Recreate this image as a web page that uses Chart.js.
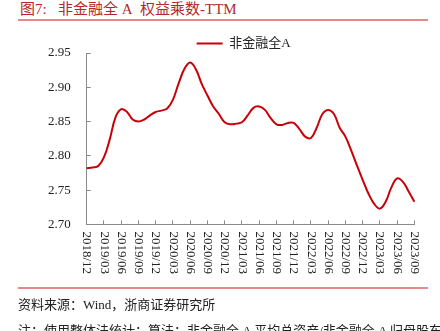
<!DOCTYPE html>
<html lang="zh-CN">
  <head>
    <meta charset="UTF-8" />
    <title>非金融全A 权益乘数-TTM</title>
    <script src="https://cdn.jsdelivr.net/npm/chart.js"></script>
    <style>
      html, body { margin: 0; padding: 0; background: #fff; }
      body { width: 440px; height: 331px; overflow: hidden; position: relative; }
      .title {
        position: absolute; left: 20px; top: 0px;
        font: 15px "Liberation Serif", "Noto Sans CJK SC", serif;
        color: #b3282d; white-space: nowrap; line-height: 18px;
      }
      .rule { position: absolute; left: 18px; width: 410px; height: 2px; background: #e38a8a; }
      .note {
        position: absolute; left: 18px;
        font: 13px "Liberation Serif", "Noto Sans CJK SC", serif;
        color: #222; white-space: nowrap; line-height: 16px;
      }
      #wrap { position: absolute; left: 0; top: 0; width: 440px; height: 331px; }
    </style>
  </head>
  <body>
    <div class="title">图7:&nbsp;&nbsp;&nbsp;非金融全 A&nbsp;&nbsp;权益乘数-TTM</div>
    <div class="rule" style="top: 19px"></div>
    <div id="wrap"><canvas id="chart"></canvas></div>
    <div class="rule" style="top: 287px"></div>
    <div class="note" style="top: 297px">资料来源：Wind，浙商证券研究所</div>
    <div class="note" style="top: 323px">注：使用整体法统计；算法：非金融全 A 平均总资产/非金融全 A 归母股东权益</div>

    <script>
      // -------- 数据 -------- //
      const months = [
        "2018/12",
        "2019/01", "2019/02", "2019/03", "2019/04", "2019/05", "2019/06",
        "2019/07", "2019/08", "2019/09", "2019/10", "2019/11", "2019/12",
        "2020/01", "2020/02", "2020/03", "2020/04", "2020/05", "2020/06",
        "2020/07", "2020/08", "2020/09", "2020/10", "2020/11", "2020/12",
        "2021/01", "2021/02", "2021/03", "2021/04", "2021/05", "2021/06",
        "2021/07", "2021/08", "2021/09", "2021/10", "2021/11", "2021/12",
        "2022/01", "2022/02", "2022/03", "2022/04", "2022/05", "2022/06",
        "2022/07", "2022/08", "2022/09", "2022/10", "2022/11", "2022/12",
        "2023/01", "2023/02", "2023/03", "2023/04", "2023/05", "2023/06",
        "2023/07", "2023/08", "2023/09",
      ];
      // 横轴只标季度
      const quarterLabels = [
        "2018/12", "2019/03", "2019/06", "2019/09", "2019/12",
        "2020/03", "2020/06", "2020/09", "2020/12",
        "2021/03", "2021/06", "2021/09", "2021/12",
        "2022/03", "2022/06", "2022/09", "2022/12",
        "2023/03", "2023/06", "2023/09",
      ];
      const equityMultiplier = [
        2.782,
        2.783, 2.785, 2.798, 2.824, 2.856, 2.868,
        2.864, 2.853, 2.850, 2.853, 2.859, 2.864,
        2.866, 2.869, 2.882, 2.906, 2.927, 2.936,
        2.926, 2.905, 2.888, 2.872, 2.861, 2.849,
        2.846, 2.847, 2.849, 2.859, 2.870, 2.872,
        2.867, 2.855, 2.846, 2.845, 2.848, 2.848,
        2.839, 2.828, 2.826, 2.841, 2.861, 2.867,
        2.861, 2.841, 2.828, 2.808, 2.786, 2.765,
        2.745, 2.730, 2.723, 2.733, 2.754, 2.767,
        2.762, 2.748, 2.733,
      ];
      const yTicks = [2.70, 2.75, 2.80, 2.85, 2.90, 2.95];

      const serif = '"Liberation Serif", "Noto Sans CJK SC", serif';
      const axisGrey = "#8a8a8a";

      // -------- 横轴标签顺时针竖排 -------- //
      const downLabels = {
        id: "downLabels",
        afterDraw(chart) {
          const xs = chart.scales.x;
          const ctx = chart.ctx;
          ctx.save();
          ctx.font = "13px " + serif;
          ctx.fillStyle = "#222";
          ctx.textAlign = "left";
          ctx.textBaseline = "middle";
          xs.ticks.forEach((t, i) => {
            const lab = months[t.value];
            if (!quarterLabels.includes(lab)) return;
            const x = xs.getPixelForTick(i);
            ctx.save();
            ctx.translate(x, xs.top + 7);
            ctx.rotate(Math.PI / 2);
            ctx.fillText(lab, 0, 0);
            ctx.restore();
          });
          ctx.restore();
        },
      };

      // -------- 图例贴近绘图区，稍向左 -------- //
      const legendTweak = {
        id: "legendTweak",
        afterInit(chart) {
          const lg = chart.legend;
          const fit = lg.fit.bind(lg);
          lg.fit = function () { fit(); this.height -= 7; };
        },
        afterLayout(chart) {
          chart.legend.left -= 7;
          chart.legend.right -= 7;
        },
      };

      new Chart(document.getElementById("chart"), {
        type: "line",
        data: {
          labels: months,
          datasets: [
            {
              label: "非金融全A",
              data: equityMultiplier,
              borderColor: "#c8000a",
              backgroundColor: "#c8000a",
              borderWidth: 2,
              pointRadius: 0,
              tension: 0.4,
            },
          ],
        },
        options: {
          responsive: true,
          maintainAspectRatio: false,
          animation: false,
          layout: { padding: { left: 28, right: 20, top: 36, bottom: 48 } },
          plugins: {
            tooltip: { enabled: false },
            legend: {
              position: "top",
              fullSize: false,
              labels: {
                usePointStyle: true,
                pointStyle: "line",
                pointStyleWidth: 26,
                padding: 1,
                color: "#222",
                font: { family: serif, size: 13 },
              },
            },
          },
          scales: {
            x: {
              grid: { drawOnChartArea: false, tickLength: -4, color: axisGrey },
              border: { color: axisGrey, width: 1 },
              ticks: {
                autoSkip: false,
                minRotation: 90,
                maxRotation: 90,
                padding: 10,
                color: "rgba(0,0,0,0)",
                font: { family: serif, size: 13 },
                callback: (v) => (quarterLabels.includes(months[v]) ? months[v] : null),
              },
            },
            y: {
              min: yTicks[0],
              max: yTicks[yTicks.length - 1],
              afterBuildTicks: (s) => { s.ticks = yTicks.map((v) => ({ value: v })); },
              grid: { drawOnChartArea: false, tickLength: -4, color: axisGrey },
              border: { color: axisGrey, width: 1 },
              ticks: {
                padding: 20,
                color: "#222",
                font: { family: serif, size: 13 },
                callback: (v) => v.toFixed(2),
              },
            },
          },
        },
        plugins: [downLabels, legendTweak],
      });
    </script>
  </body>
</html>
